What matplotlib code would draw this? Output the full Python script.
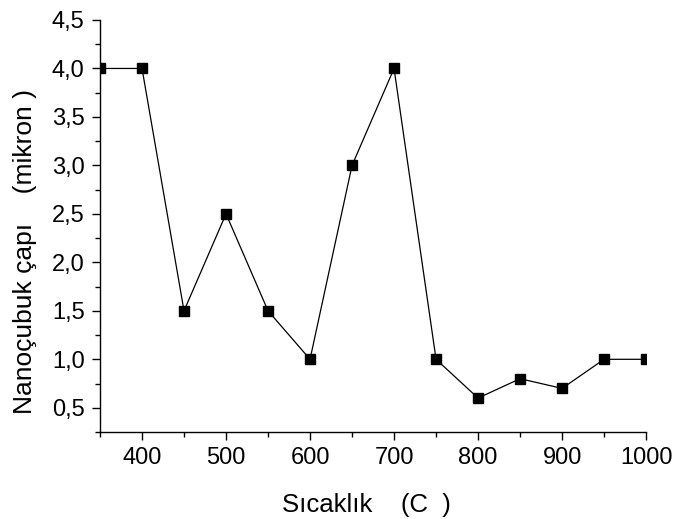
import matplotlib
matplotlib.use('Agg')
import matplotlib.pyplot as plt
from matplotlib.ticker import MultipleLocator, FuncFormatter

# Sıcaklık (C) ve nanoçubuk çapı (mikron)
sicaklik = [350, 400, 450, 500, 550, 600, 650, 700, 750, 800, 850, 900, 950, 1000]
cap = [4.0, 4.0, 1.5, 2.5, 1.5, 1.0, 3.0, 4.0, 1.0, 0.6, 0.8, 0.7, 1.0, 1.0]

plt.rcParams['font.family'] = ['Liberation Sans', 'DejaVu Sans']

fig = plt.figure(figsize=(6.73, 5.19), dpi=100)
ax = fig.add_axes([0.1486, 0.1676, 0.8114, 0.7939])

ax.plot(sicaklik, cap, color='black', lw=0.9, marker='s', markersize=7,
        markerfacecolor='black', markeredgecolor='black')

ax.set_xlim(350, 1000)
ax.set_ylim(0.25, 4.5)

ax.xaxis.set_major_locator(MultipleLocator(100))
ax.xaxis.set_minor_locator(MultipleLocator(50))
ax.yaxis.set_major_locator(MultipleLocator(0.5))
ax.yaxis.set_minor_locator(MultipleLocator(0.25))
ax.yaxis.set_major_formatter(FuncFormatter(lambda v, p: f'{v:.1f}'.replace('.', ',')))

ax.spines['top'].set_visible(False)
ax.spines['right'].set_visible(False)
for s in ('left', 'bottom'):
    ax.spines[s].set_linewidth(1.0)

ax.tick_params(which='major', direction='out', length=6, width=1.0, labelsize=17, pad=5)
ax.tick_params(which='minor', direction='out', length=3.5, width=1.0)

ax.set_xlabel('Sıcaklık    (C  )', fontsize=18.5)
ax.set_ylabel('Nanoçubuk çapı    (mikron )', fontsize=19)
ax.xaxis.set_label_coords(0.487, -0.149)
ax.yaxis.set_label_coords(-0.115, 0.438)

fig.savefig('out.png', dpi=100)
